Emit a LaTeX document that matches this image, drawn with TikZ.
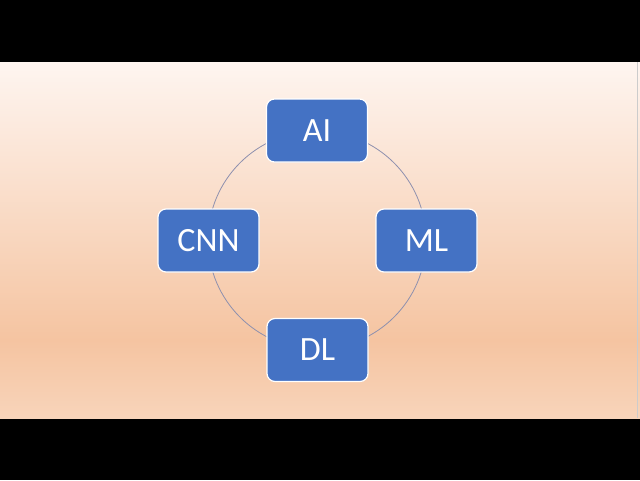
\documentclass[tikz,border=0pt]{standalone}
\usepackage{fontspec}
\setmainfont{Carlito}
\definecolor{boxblue}{HTML}{4472C4}
\definecolor{bgtop}{HTML}{FEF5F0}
\definecolor{bgmid}{HTML}{F5C4A1}
\definecolor{bgbot}{HTML}{F8D4BA}
\definecolor{ringcol}{HTML}{8E90AE}
\begin{document}
\begin{tikzpicture}[x=1pt,y=-1pt,
  conceptbox/.style={draw=white, line width=1.2pt, fill=boxblue, rounded corners=8pt,
    minimum width=101pt, minimum height=63pt, inner sep=0pt,
    text=white, font=\fontsize{34}{34}\selectfont}]
\useasboundingbox (0,0) rectangle (640,480);
\fill[black] (0,0) rectangle (640,62);
\fill[black] (0,418) rectangle (640,480);
\shade[top color=bgtop, bottom color=bgmid, shading angle=0] (0,62) rectangle (640,340.5);
\shade[top color=bgmid, bottom color=bgbot] (0,340) rectangle (640,418);
\draw[gray!40, line width=1pt] (637,62) -- (637,418);
\coordinate (ctr) at (317,240);
\draw[ringcol, line width=0.8pt] (ctr) circle (109);
\node[conceptbox] (ai) at (317,130.5) {AI};
\node[conceptbox] (ml) at (426.5,240.5) {ML};
\node[conceptbox] (cnn) at (208.5,240.5) {CNN};
\node[conceptbox] (dl) at (317.5,350) {DL};
\end{tikzpicture}
\end{document}
